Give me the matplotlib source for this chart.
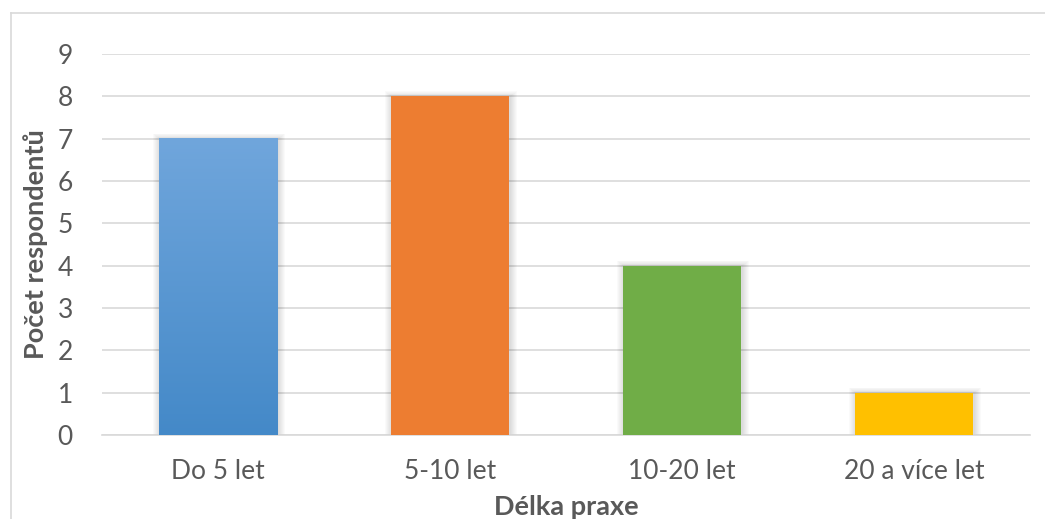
import matplotlib
matplotlib.use('Agg')
import matplotlib.pyplot as plt
import numpy as np
from matplotlib.patches import Rectangle
from matplotlib.lines import Line2D
from matplotlib.colors import to_rgb

categories = ['Do 5 let', '5-10 let', '10-20 let', '20 a více let']
values = [7, 8, 4, 1]
bar_colors = ['#5B9BD5', '#ED7D31', '#70AD47', '#FFC000']
y_ticks = list(range(0, 10))

plt.rcParams['font.family'] = ['Lato', 'DejaVu Sans']
TEXT = '#595959'
GRID = '#D9D9D9'

W, H = 1045, 519
fig = plt.figure(figsize=(W / 100, H / 100), dpi=100)
ax = fig.add_axes([102 / W, (H - 435) / H, (1030 - 102) / W, (435 - 54) / H])

x = np.arange(len(categories))
bar_w = 0.51
ax.set_xlim(-0.5, len(categories) - 0.5)
ax.set_ylim(0, 9)

# pixel -> data conversion for the soft shadows
px_x = (len(categories)) / (1030 - 102)
px_y = 9 / (435 - 54)

for xi, v in zip(x, values):
    x0 = xi - bar_w / 2
    for k in range(7, 0, -1):
        ax.add_patch(Rectangle((x0 - k * px_x + px_x, -k * px_y * 0.3),
                               bar_w + 2 * k * px_x, v + k * px_y,
                               facecolor='black', edgecolor='none',
                               alpha=0.018, zorder=2))

bars = ax.bar(x, values, width=bar_w, color=bar_colors, zorder=3)

# vertical gradient on the first bar
top, bottom = np.array(to_rgb('#70A6DC')), np.array(to_rgb('#4489C8'))
t = np.linspace(0, 1, 200)[:, None]
grad = (top * (1 - t) + bottom * t)[:, None, :]
b0 = bars[0]
ax.imshow(grad, extent=[b0.get_x(), b0.get_x() + b0.get_width(), 0, values[0]],
          aspect='auto', zorder=4, interpolation='bilinear')
ax.set_xlim(-0.5, len(categories) - 0.5)
ax.set_ylim(0, 9)

ax.set_yticks(y_ticks)
ax.set_xticks(x)
ax.set_xticklabels(categories)
ax.yaxis.grid(True, color=GRID, linewidth=1.2, zorder=0)
ax.set_axisbelow(True)
for s in ['top', 'right', 'left']:
    ax.spines[s].set_visible(False)
ax.spines['bottom'].set_color(GRID)
ax.spines['bottom'].set_linewidth(1.2)
ax.tick_params(axis='both', length=0, labelsize=19, labelcolor=TEXT)
ax.tick_params(axis='y', pad=21)
ax.tick_params(axis='x', pad=17)

ax.set_ylabel('Počet respondentů', fontsize=19.5, fontweight='bold', color=TEXT, labelpad=7)
ax.set_xlabel('Délka praxe', fontsize=19.5, fontweight='bold', color=TEXT, labelpad=8)

# chart area frame
fig.add_artist(Line2D([10.5 / W, 10.5 / W], [0, 1 - 12.5 / H], color=GRID, linewidth=1.2))
fig.add_artist(Line2D([10.5 / W, 1], [1 - 12.5 / H, 1 - 12.5 / H], color=GRID, linewidth=1.2))

fig.savefig('out.png', dpi=100)
